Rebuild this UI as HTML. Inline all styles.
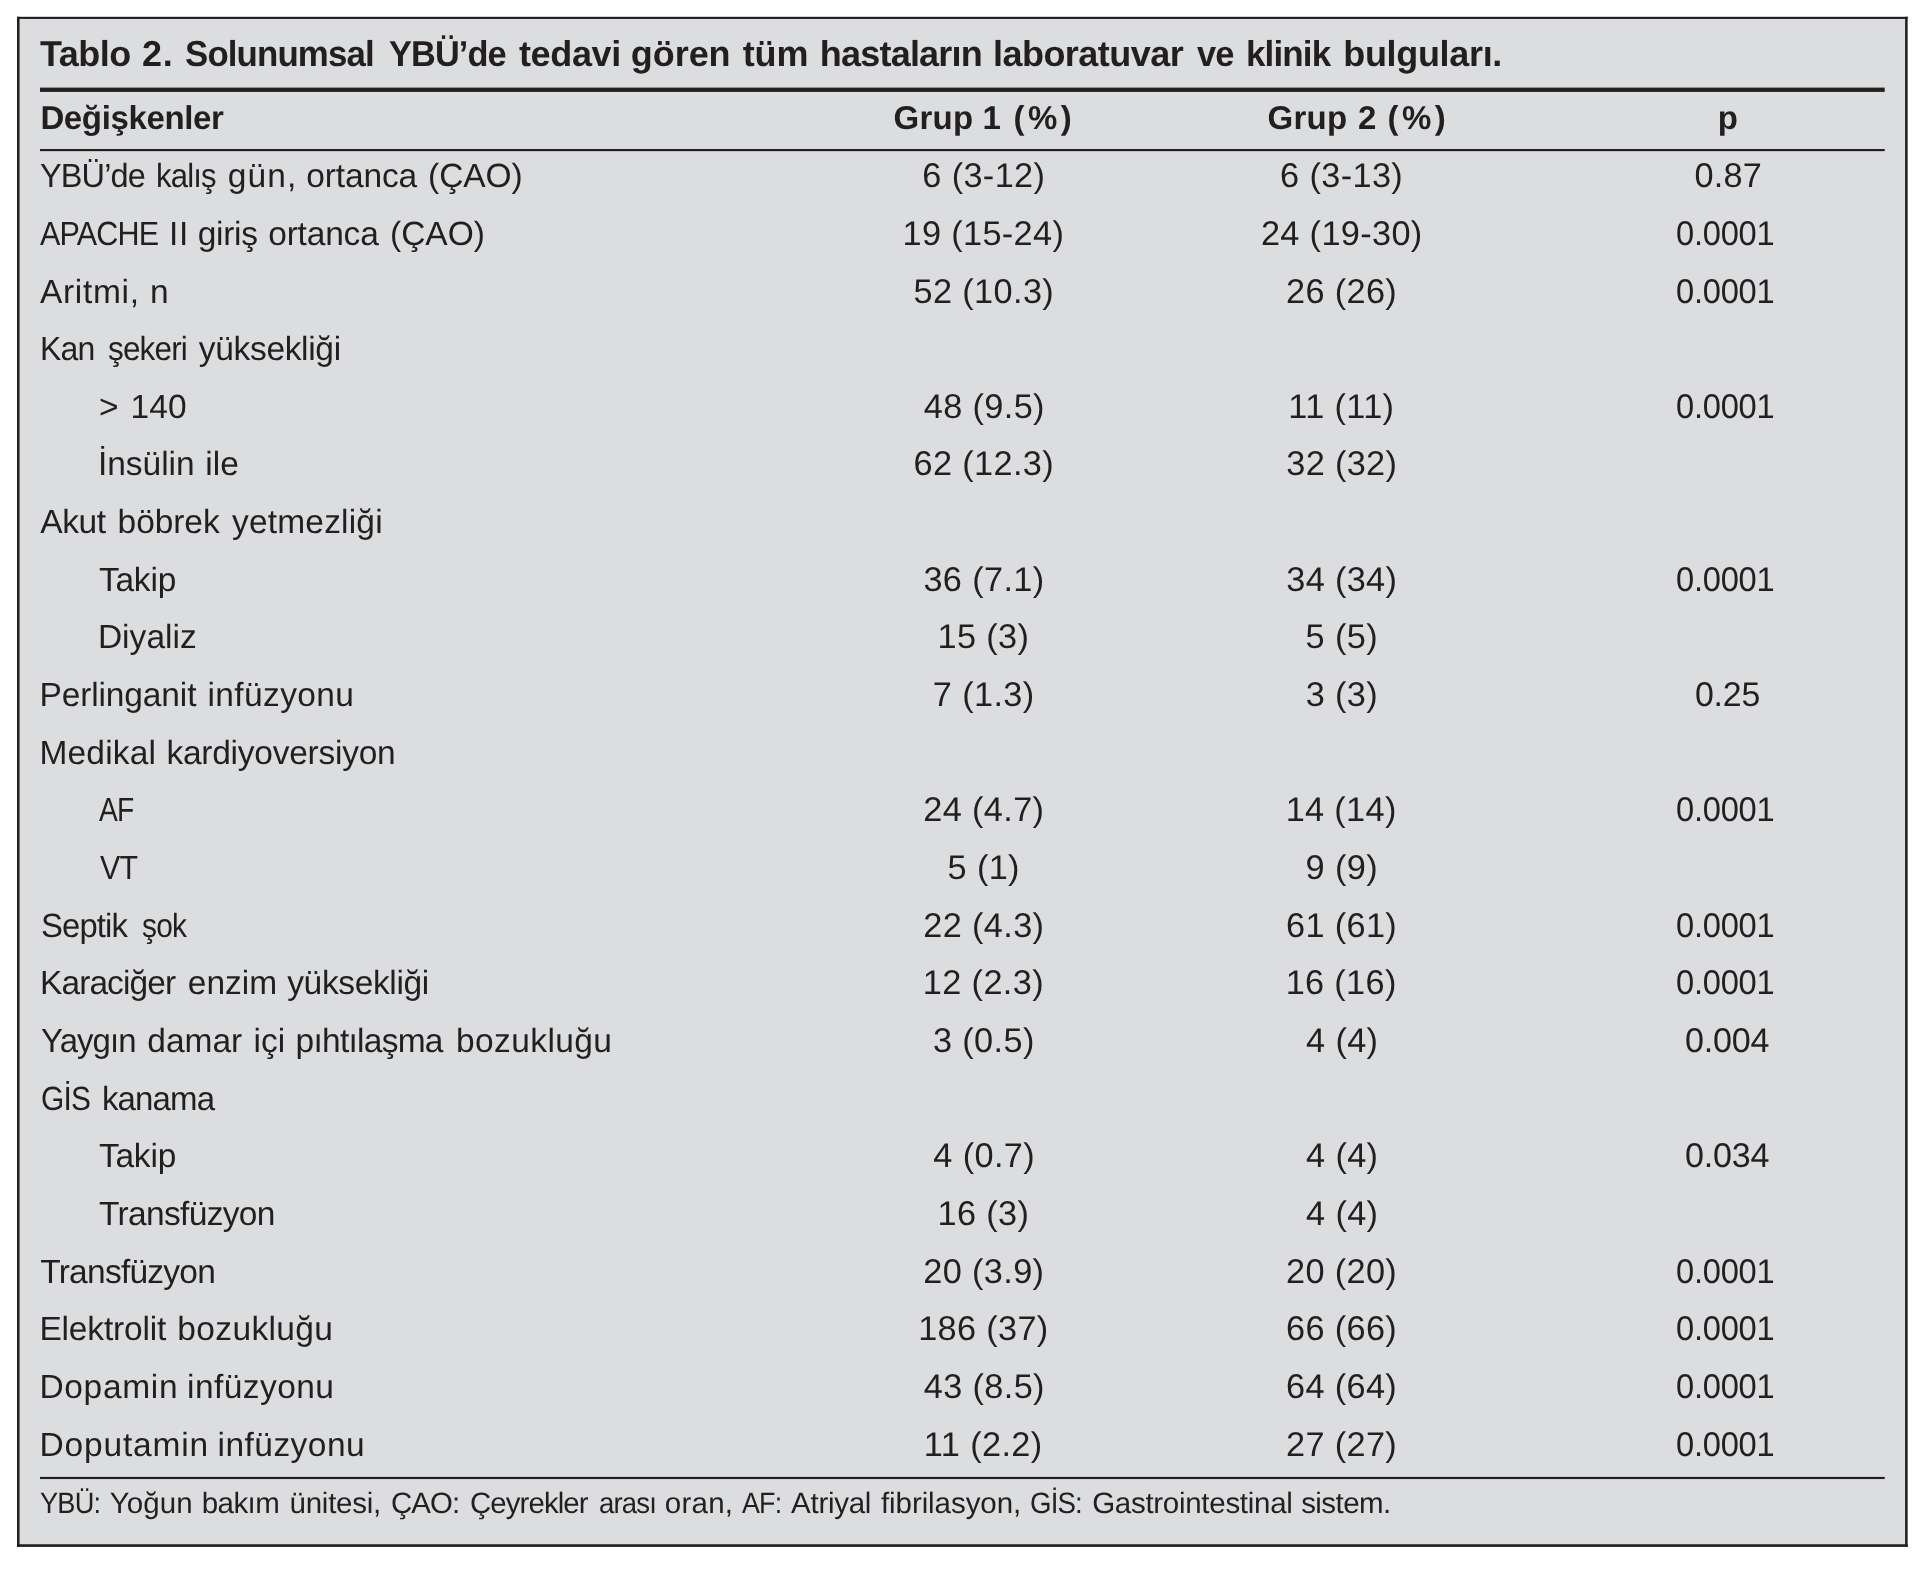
<!DOCTYPE html>
<html lang="tr"><head><meta charset="utf-8"><title>Tablo 2</title><style>
html,body{margin:0;padding:0;background:#fff}
body{width:1927px;height:1571px;position:relative;overflow:hidden;font-family:"Liberation Sans", sans-serif;color:#231f20}
.t{position:absolute;transform-origin:0 0;white-space:pre;line-height:1;font-weight:400;font-kerning:normal;text-rendering:geometricPrecision}
.b{font-weight:700}
.txt{position:absolute;left:0;top:0;width:1927px;height:1571px;will-change:transform;transform:translateZ(0)}
</style></head>
<body>
<svg width="1927" height="1571" viewBox="0 0 1927 1571" style="position:absolute;left:0;top:0">
<rect x="18.00" y="17.80" width="1888.65" height="1528.10" fill="#dcddde"/>
<g fill="#231f20">
<rect x="17.00" y="16.80" width="1890.65" height="2.15"/>
<rect x="17.00" y="1544.25" width="1890.65" height="2.65"/>
<rect x="17.00" y="16.80" width="2.55" height="1530.10"/>
<rect x="1905.10" y="16.80" width="2.55" height="1530.10"/>
<rect x="40" y="87.6" width="1844.7" height="4.3"/>
<rect x="40" y="149.0" width="1844.7" height="2.15"/>
<rect x="40" y="1476.9" width="1844.7" height="2.15"/>
</g></svg>
<div class="txt">
<div class="t b" style="left:39.90px;top:36px;font-size:36px;letter-spacing:-0.488px;">Tablo</div>
<div class="t b" style="left:142.05px;top:36px;font-size:36px;letter-spacing:0.606px;">2.</div>
<div class="t b" style="left:184.73px;top:36px;font-size:36px;letter-spacing:-0.900px;transform:scaleX(0.9682);">Solunumsal</div>
<div class="t b" style="left:389.40px;top:36px;font-size:36px;letter-spacing:-0.900px;transform:scaleX(0.9527);">YBÜ’de</div>
<div class="t b" style="left:518.91px;top:36px;font-size:36px;letter-spacing:-0.339px;">tedavi</div>
<div class="t b" style="left:630.83px;top:36px;font-size:36px;letter-spacing:-0.061px;">gören</div>
<div class="t b" style="left:742.76px;top:36px;font-size:36px;letter-spacing:-0.167px;">tüm</div>
<div class="t b" style="left:819.84px;top:36px;font-size:36px;letter-spacing:-0.798px;">hastaların</div>
<div class="t b" style="left:993.00px;top:36px;font-size:36px;letter-spacing:-0.536px;">laboratuvar</div>
<div class="t b" style="left:1197.20px;top:36px;font-size:36px;letter-spacing:-0.900px;transform:scaleX(0.9548);">ve</div>
<div class="t b" style="left:1245.66px;top:36px;font-size:36px;letter-spacing:-0.900px;transform:scaleX(0.9721);">klinik</div>
<div class="t b" style="left:1343.24px;top:36px;font-size:36px;letter-spacing:-0.324px;">bulguları.</div>
<div class="t b" style="left:40.40px;top:101px;font-size:33px;letter-spacing:-0.363px;">Değişkenler</div>
<div class="t b" style="left:893.46px;top:101px;font-size:33px;letter-spacing:0.272px;">Grup</div>
<div class="t b" style="left:982.47px;top:101px;font-size:33px;letter-spacing:0.000px;">1</div>
<div class="t b" style="left:1013.50px;top:101px;font-size:33px;letter-spacing:3.506px;">(%)</div>
<div class="t b" style="left:1267.46px;top:101px;font-size:33px;letter-spacing:0.272px;">Grup</div>
<div class="t b" style="left:1357.98px;top:101px;font-size:33px;letter-spacing:0.000px;">2</div>
<div class="t b" style="left:1387.50px;top:101px;font-size:33px;letter-spacing:3.506px;">(%)</div>
<div class="t b" style="left:1717.81px;top:101px;font-size:33px;letter-spacing:0.000px;">p</div>
<div class="t" style="left:40.30px;top:160px;font-size:33.5px;letter-spacing:-0.900px;transform:scaleX(0.9700);">YBÜ’de</div>
<div class="t" style="left:156.34px;top:160px;font-size:33.5px;letter-spacing:-0.900px;transform:scaleX(0.9275);">kalış</div>
<div class="t" style="left:227.76px;top:160px;font-size:33.5px;letter-spacing:1.085px;">gün,</div>
<div class="t" style="left:306.34px;top:160px;font-size:33.5px;letter-spacing:-0.151px;">ortanca</div>
<div class="t" style="left:428.03px;top:160px;font-size:33.5px;letter-spacing:-0.038px;">(ÇAO)</div>
<div class="t" style="left:922.32px;top:159px;font-size:34.3px;letter-spacing:0.363px;">6 (3-12)</div>
<div class="t" style="left:1280.12px;top:159px;font-size:34.3px;letter-spacing:0.363px;">6 (3-13)</div>
<div class="t" style="left:1694.47px;top:159px;font-size:34.3px;letter-spacing:0.237px;">0.87</div>
<div class="t" style="left:40.30px;top:218px;font-size:33.5px;letter-spacing:-0.900px;transform:scaleX(0.9109);">APACHE</div>
<div class="t" style="left:169.04px;top:218px;font-size:33.5px;letter-spacing:0.592px;">II</div>
<div class="t" style="left:197.71px;top:218px;font-size:33.5px;letter-spacing:-0.308px;">giriş</div>
<div class="t" style="left:268.20px;top:218px;font-size:33.5px;letter-spacing:-0.187px;">ortanca</div>
<div class="t" style="left:390.07px;top:218px;font-size:33.5px;letter-spacing:-0.039px;">(ÇAO)</div>
<div class="t" style="left:902.50px;top:217px;font-size:34.3px;letter-spacing:0.348px;">19 (15-24)</div>
<div class="t" style="left:1260.91px;top:217px;font-size:34.3px;letter-spacing:0.344px;">24 (19-30)</div>
<div class="t" style="left:1675.95px;top:217px;font-size:34.3px;letter-spacing:-0.250px;transform:scaleX(0.9510);">0.0001</div>
<div class="t" style="left:39.88px;top:276px;font-size:33.5px;letter-spacing:0.705px;">Aritmi,</div>
<div class="t" style="left:150.07px;top:276px;font-size:33.5px;letter-spacing:0.000px;">n</div>
<div class="t" style="left:913.58px;top:275px;font-size:34.3px;letter-spacing:0.361px;">52 (10.3)</div>
<div class="t" style="left:1286.12px;top:275px;font-size:34.3px;letter-spacing:0.329px;">26 (26)</div>
<div class="t" style="left:1675.95px;top:275px;font-size:34.3px;letter-spacing:-0.250px;transform:scaleX(0.9510);">0.0001</div>
<div class="t" style="left:40.19px;top:333px;font-size:33.5px;letter-spacing:-0.900px;transform:scaleX(0.9562);">Kan</div>
<div class="t" style="left:107.80px;top:333px;font-size:33.5px;letter-spacing:-0.900px;transform:scaleX(0.9410);">şekeri</div>
<div class="t" style="left:198.79px;top:333px;font-size:33.5px;letter-spacing:-0.321px;">yüksekliği</div>
<div class="t" style="left:98.92px;top:391px;font-size:33.5px;letter-spacing:0.000px;">&gt;</div>
<div class="t" style="left:130.61px;top:391px;font-size:33.5px;letter-spacing:0.015px;">140</div>
<div class="t" style="left:923.72px;top:390px;font-size:34.3px;letter-spacing:0.368px;">48 (9.5)</div>
<div class="t" style="left:1288.24px;top:390px;font-size:34.3px;letter-spacing:0.367px;">11 (11)</div>
<div class="t" style="left:1675.95px;top:390px;font-size:34.3px;letter-spacing:-0.250px;transform:scaleX(0.9510);">0.0001</div>
<div class="t" style="left:97.89px;top:448px;font-size:33.5px;letter-spacing:-0.006px;">İnsülin</div>
<div class="t" style="left:205.26px;top:448px;font-size:33.5px;letter-spacing:0.090px;">ile</div>
<div class="t" style="left:913.54px;top:447px;font-size:34.3px;letter-spacing:0.361px;">62 (12.3)</div>
<div class="t" style="left:1286.26px;top:447px;font-size:34.3px;letter-spacing:0.329px;">32 (32)</div>
<div class="t" style="left:40.33px;top:506px;font-size:33.5px;letter-spacing:-0.415px;">Akut</div>
<div class="t" style="left:117.59px;top:506px;font-size:33.5px;letter-spacing:-0.068px;">böbrek</div>
<div class="t" style="left:232.01px;top:506px;font-size:33.5px;letter-spacing:0.185px;">yetmezliği</div>
<div class="t" style="left:98.89px;top:564px;font-size:33.5px;letter-spacing:-0.191px;">Takip</div>
<div class="t" style="left:923.38px;top:563px;font-size:34.3px;letter-spacing:0.373px;">36 (7.1)</div>
<div class="t" style="left:1286.26px;top:563px;font-size:34.3px;letter-spacing:0.329px;">34 (34)</div>
<div class="t" style="left:1675.95px;top:563px;font-size:34.3px;letter-spacing:-0.250px;transform:scaleX(0.9510);">0.0001</div>
<div class="t" style="left:97.89px;top:621px;font-size:33.5px;letter-spacing:0.054px;">Diyaliz</div>
<div class="t" style="left:937.52px;top:620px;font-size:34.3px;letter-spacing:0.347px;">15 (3)</div>
<div class="t" style="left:1305.62px;top:620px;font-size:34.3px;letter-spacing:0.355px;">5 (5)</div>
<div class="t" style="left:39.45px;top:679px;font-size:33.5px;letter-spacing:-0.124px;">Perlinganit</div>
<div class="t" style="left:207.46px;top:679px;font-size:33.5px;letter-spacing:0.391px;">infüzyonu</div>
<div class="t" style="left:932.77px;top:678px;font-size:34.3px;letter-spacing:0.389px;">7 (1.3)</div>
<div class="t" style="left:1305.70px;top:678px;font-size:34.3px;letter-spacing:0.355px;">3 (3)</div>
<div class="t" style="left:1694.91px;top:678px;font-size:34.3px;letter-spacing:-0.250px;transform:scaleX(0.9886);">0.25</div>
<div class="t" style="left:39.45px;top:737px;font-size:33.5px;letter-spacing:0.191px;">Medikal</div>
<div class="t" style="left:166.40px;top:737px;font-size:33.5px;letter-spacing:-0.246px;">kardiyoversiyon</div>
<div class="t" style="left:99.30px;top:794px;font-size:33.5px;letter-spacing:-0.900px;transform:scaleX(0.8421);">AF</div>
<div class="t" style="left:923.23px;top:793px;font-size:34.3px;letter-spacing:0.373px;">24 (4.7)</div>
<div class="t" style="left:1285.65px;top:793px;font-size:34.3px;letter-spacing:0.335px;">14 (14)</div>
<div class="t" style="left:1675.95px;top:793px;font-size:34.3px;letter-spacing:-0.250px;transform:scaleX(0.9510);">0.0001</div>
<div class="t" style="left:99.50px;top:852px;font-size:33.5px;letter-spacing:-0.900px;transform:scaleX(0.9048);">VT</div>
<div class="t" style="left:947.57px;top:851px;font-size:34.3px;letter-spacing:0.355px;">5 (1)</div>
<div class="t" style="left:1305.61px;top:851px;font-size:34.3px;letter-spacing:0.355px;">9 (9)</div>
<div class="t" style="left:41.02px;top:910px;font-size:33.5px;letter-spacing:-0.900px;transform:scaleX(0.9800);">Septik</div>
<div class="t" style="left:142.10px;top:910px;font-size:33.5px;letter-spacing:-0.900px;transform:scaleX(0.8936);">şok</div>
<div class="t" style="left:923.23px;top:909px;font-size:34.3px;letter-spacing:0.373px;">22 (4.3)</div>
<div class="t" style="left:1286.12px;top:909px;font-size:34.3px;letter-spacing:0.329px;">61 (61)</div>
<div class="t" style="left:1675.95px;top:909px;font-size:34.3px;letter-spacing:-0.250px;transform:scaleX(0.9510);">0.0001</div>
<div class="t" style="left:40.40px;top:967px;font-size:33.5px;letter-spacing:-0.900px;transform:scaleX(0.9991);">Karaciğer</div>
<div class="t" style="left:187.80px;top:967px;font-size:33.5px;letter-spacing:0.014px;">enzim</div>
<div class="t" style="left:287.21px;top:967px;font-size:33.5px;letter-spacing:-0.353px;">yüksekliği</div>
<div class="t" style="left:922.77px;top:966px;font-size:34.3px;letter-spacing:0.379px;">12 (2.3)</div>
<div class="t" style="left:1285.65px;top:966px;font-size:34.3px;letter-spacing:0.335px;">16 (16)</div>
<div class="t" style="left:1675.95px;top:966px;font-size:34.3px;letter-spacing:-0.250px;transform:scaleX(0.9510);">0.0001</div>
<div class="t" style="left:40.90px;top:1025px;font-size:33.5px;letter-spacing:-0.900px;transform:scaleX(0.9825);">Yaygın</div>
<div class="t" style="left:147.35px;top:1025px;font-size:33.5px;letter-spacing:-0.023px;">damar</div>
<div class="t" style="left:253.40px;top:1025px;font-size:33.5px;letter-spacing:0.043px;">içi</div>
<div class="t" style="left:295.60px;top:1025px;font-size:33.5px;letter-spacing:-0.738px;">pıhtılaşma</div>
<div class="t" style="left:455.99px;top:1025px;font-size:33.5px;letter-spacing:0.401px;">bozukluğu</div>
<div class="t" style="left:932.91px;top:1024px;font-size:34.3px;letter-spacing:0.389px;">3 (0.5)</div>
<div class="t" style="left:1306.10px;top:1024px;font-size:34.3px;letter-spacing:0.345px;">4 (4)</div>
<div class="t" style="left:1685.21px;top:1024px;font-size:34.3px;letter-spacing:-0.250px;transform:scaleX(0.9946);">0.004</div>
<div class="t" style="left:40.61px;top:1083px;font-size:33.5px;letter-spacing:-0.900px;transform:scaleX(0.8905);">GİS</div>
<div class="t" style="left:101.83px;top:1083px;font-size:33.5px;letter-spacing:-0.900px;transform:scaleX(0.9854);">kanama</div>
<div class="t" style="left:98.89px;top:1140px;font-size:33.5px;letter-spacing:-0.191px;">Takip</div>
<div class="t" style="left:933.28px;top:1139px;font-size:34.3px;letter-spacing:0.383px;">4 (0.7)</div>
<div class="t" style="left:1306.10px;top:1139px;font-size:34.3px;letter-spacing:0.345px;">4 (4)</div>
<div class="t" style="left:1685.21px;top:1139px;font-size:34.3px;letter-spacing:-0.250px;transform:scaleX(0.9946);">0.034</div>
<div class="t" style="left:98.89px;top:1198px;font-size:33.5px;letter-spacing:-0.649px;">Transfüzyon</div>
<div class="t" style="left:937.52px;top:1197px;font-size:34.3px;letter-spacing:0.347px;">16 (3)</div>
<div class="t" style="left:1306.10px;top:1197px;font-size:34.3px;letter-spacing:0.345px;">4 (4)</div>
<div class="t" style="left:40.25px;top:1256px;font-size:33.5px;letter-spacing:-0.752px;">Transfüzyon</div>
<div class="t" style="left:923.23px;top:1255px;font-size:34.3px;letter-spacing:0.373px;">20 (3.9)</div>
<div class="t" style="left:1286.12px;top:1255px;font-size:34.3px;letter-spacing:0.329px;">20 (20)</div>
<div class="t" style="left:1675.95px;top:1255px;font-size:34.3px;letter-spacing:-0.250px;transform:scaleX(0.9510);">0.0001</div>
<div class="t" style="left:39.45px;top:1313px;font-size:33.5px;letter-spacing:-0.178px;">Elektrolit</div>
<div class="t" style="left:177.31px;top:1313px;font-size:33.5px;letter-spacing:0.369px;">bozukluğu</div>
<div class="t" style="left:918.19px;top:1312px;font-size:34.3px;letter-spacing:0.327px;">186 (37)</div>
<div class="t" style="left:1286.12px;top:1312px;font-size:34.3px;letter-spacing:0.329px;">66 (66)</div>
<div class="t" style="left:1675.95px;top:1312px;font-size:34.3px;letter-spacing:-0.250px;transform:scaleX(0.9510);">0.0001</div>
<div class="t" style="left:39.45px;top:1371px;font-size:33.5px;letter-spacing:0.671px;">Dopamin</div>
<div class="t" style="left:187.06px;top:1371px;font-size:33.5px;letter-spacing:0.441px;">infüzyonu</div>
<div class="t" style="left:923.72px;top:1370px;font-size:34.3px;letter-spacing:0.368px;">43 (8.5)</div>
<div class="t" style="left:1286.12px;top:1370px;font-size:34.3px;letter-spacing:0.329px;">64 (64)</div>
<div class="t" style="left:1675.95px;top:1370px;font-size:34.3px;letter-spacing:-0.250px;transform:scaleX(0.9510);">0.0001</div>
<div class="t" style="left:39.45px;top:1429px;font-size:33.5px;letter-spacing:0.840px;">Doputamin</div>
<div class="t" style="left:217.55px;top:1429px;font-size:33.5px;letter-spacing:0.455px;">infüzyonu</div>
<div class="t" style="left:923.87px;top:1428px;font-size:34.3px;letter-spacing:0.392px;">11 (2.2)</div>
<div class="t" style="left:1286.12px;top:1428px;font-size:34.3px;letter-spacing:0.329px;">27 (27)</div>
<div class="t" style="left:1675.95px;top:1428px;font-size:34.3px;letter-spacing:-0.250px;transform:scaleX(0.9510);">0.0001</div>
<div class="t" style="left:40.00px;top:1489px;font-size:29.5px;letter-spacing:-0.900px;transform:scaleX(0.9225);">YBÜ:</div>
<div class="t" style="left:109.81px;top:1489px;font-size:29.5px;letter-spacing:0.041px;">Yoğun</div>
<div class="t" style="left:201.76px;top:1489px;font-size:29.5px;letter-spacing:-0.574px;">bakım</div>
<div class="t" style="left:289.48px;top:1489px;font-size:29.5px;letter-spacing:-0.235px;">ünitesi,</div>
<div class="t" style="left:391.40px;top:1489px;font-size:29.5px;letter-spacing:-0.900px;transform:scaleX(0.9966);">ÇAO:</div>
<div class="t" style="left:469.60px;top:1489px;font-size:29.5px;letter-spacing:-0.900px;transform:scaleX(0.9958);">Çeyrekler</div>
<div class="t" style="left:598.57px;top:1489px;font-size:29.5px;letter-spacing:-0.900px;transform:scaleX(0.9322);">arası</div>
<div class="t" style="left:664.71px;top:1489px;font-size:29.5px;letter-spacing:0.269px;">oran,</div>
<div class="t" style="left:741.50px;top:1489px;font-size:29.5px;letter-spacing:-0.900px;transform:scaleX(0.9094);">AF:</div>
<div class="t" style="left:791.08px;top:1489px;font-size:29.5px;letter-spacing:-0.281px;">Atriyal</div>
<div class="t" style="left:880.93px;top:1489px;font-size:29.5px;letter-spacing:-0.067px;">fibrilasyon,</div>
<div class="t" style="left:1030.46px;top:1489px;font-size:29.5px;letter-spacing:-0.900px;transform:scaleX(0.9375);">GİS:</div>
<div class="t" style="left:1092.18px;top:1489px;font-size:29.5px;letter-spacing:-0.287px;">Gastrointestinal</div>
<div class="t" style="left:1301.20px;top:1489px;font-size:29.5px;letter-spacing:-0.572px;">sistem.</div>
</div>
</body></html>
